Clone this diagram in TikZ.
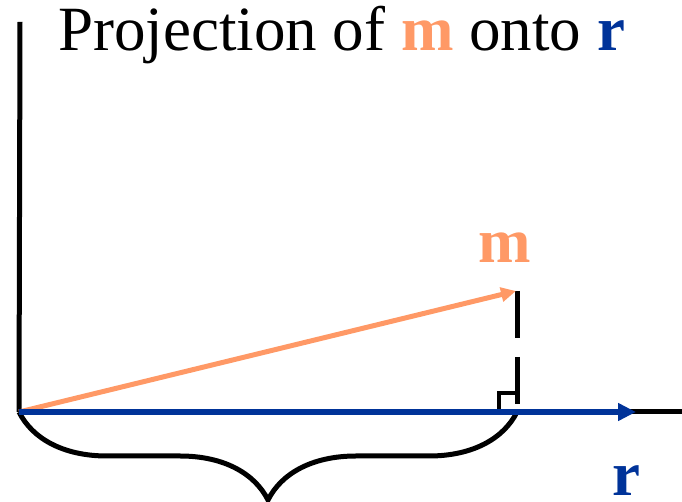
\documentclass[tikz,border=0pt]{standalone}
\usepackage{fontspec}
\setmainfont{Liberation Serif}
\usepackage{tikz}
\usetikzlibrary{arrows.meta,positioning,calc,decorations.pathreplacing}
\definecolor{mcolor}{RGB}{255,153,102}
\definecolor{rcolor}{RGB}{0,51,153}

\begin{document}
\begin{tikzpicture}[x=1pt,y=1pt,
    axis/.style={line width=5pt, black},
    vecm/.style={line width=5pt, mcolor, -{Triangle[length=15pt,width=14pt]}},
    vecr/.style={line width=5.5pt, rcolor, -{Triangle[length=18pt,width=17pt]}},
    big/.style={font=\fontsize{63}{70}\selectfont, inner sep=0pt}]
    \useasboundingbox (0,0) rectangle (682,502);

    % points
    \coordinate (O) at (19,90);
    \coordinate (ytop) at (20,480);
    \coordinate (xend) at (682,90);
    \coordinate (rtip) at (636,90);
    \coordinate (mtip) at (516,211);
    \coordinate (mtop) at (517,211);
    \coordinate (foot) at (517,90);

    % title and labels
    \node[big, anchor=base west] (title) at (58,451)
      {Projection of \textbf{\color{mcolor}m} onto \textbf{\color{rcolor}r}};
    \node[big, anchor=base, mcolor] (mlabel) at (505,239) {\textbf{m}};
    \node[big, anchor=base, rcolor, text depth=0pt] (rlabel) at (626,6) {\textbf{r}};

    % axes
    \draw[axis] (O) -- (ytop);
    \draw[axis] (O) -- (xend);

    % brace under the projection
    \draw[axis, decorate, decoration={brace, mirror, amplitude=88pt}] (O) -- (foot);

    % perpendicular and right angle mark
    \draw[axis, dash pattern=on 47pt off 19pt] (mtop) -- (foot);
    \draw[line width=4pt] ($(foot)+(-18,0)$) -- ++(0,19) -- ++(18,0);

    % vectors
    \draw[vecm] (O) -- (mtip);
    \draw[vecr] (O) -- (rtip);
\end{tikzpicture}
\end{document}
